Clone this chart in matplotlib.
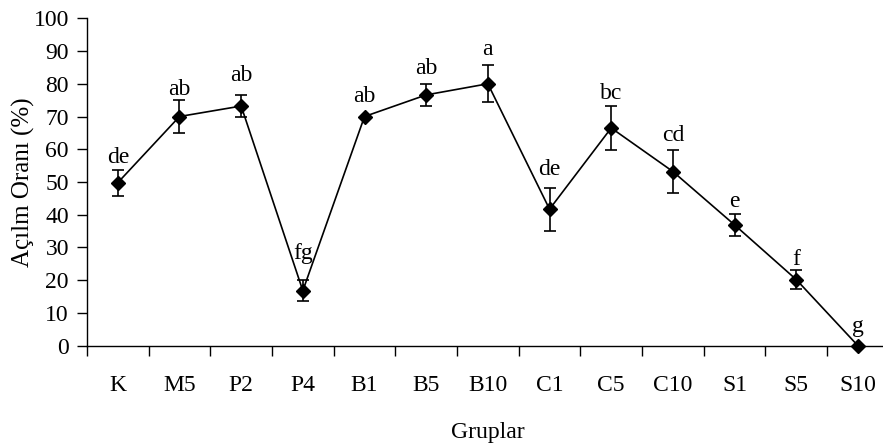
import numpy as np
import matplotlib.pyplot as plt

# Groups and measured values
groups = ["K", "M5", "P2", "P4", "B1", "B5", "B10", "C1", "C5", "C10", "S1", "S5", "S10"]
values = [49.8, 70.0, 73.2, 16.8, 70.0, 76.6, 80.0, 41.7, 66.5, 53.2, 36.9, 20.2, 0.0]
errors = [4.0, 5.0, 3.3, 3.3, 0.0, 3.3, 5.7, 6.6, 6.7, 6.5, 3.4, 2.9, 0.0]
letters = ["de", "ab", "ab", "fg", "ab", "ab", "a", "de", "bc", "cd", "e", "f", "g"]

# gap (pixels) between top of error bar and the letter baseline
label_gap = [6.5, 5, 14, 21, 15, 10.5, 10, 13, 7.5, 9, 7, 5.5, 14]

plt.rcParams['font.family'] = ['Liberation Serif', 'DejaVu Serif']

fig = plt.figure(figsize=(8.83, 4.44), dpi=100)
ax = fig.add_axes([0.0985, 0.2214, 0.908, 0.7374])

x = np.arange(len(groups))
ax.errorbar(x, values, yerr=errors, color='black', lw=1.2, marker='D',
            markersize=7.5, capsize=4.5, elinewidth=1.2, capthick=1.2,
            clip_on=False, zorder=3)

for xi, v, e, lab, g in zip(x, values, errors, letters, label_gap):
    ax.annotate(lab, (xi, v + e), xytext=(0, g * 0.72), textcoords='offset points',
                ha='center', va='baseline', fontsize=17)

ax.set_xlim(-0.5, 12.5)
ax.set_ylim(0, 100)
ax.set_yticks(np.arange(0, 101, 10))
ax.set_xticks(x)
ax.set_xticklabels(groups)
ax.set_xticks(np.arange(-0.5, 12.6, 1), minor=True)
ax.tick_params(axis='x', which='major', length=0, pad=21, labelsize=17)
ax.tick_params(axis='x', which='minor', length=7, direction='out', width=1)
ax.tick_params(axis='y', length=7, direction='out', width=1, labelsize=17, pad=6)

for s in ['top', 'right']:
    ax.spines[s].set_visible(False)
for s in ['left', 'bottom']:
    ax.spines[s].set_linewidth(1)

ax.set_xlabel("Gruplar", fontsize=17, labelpad=19)
ax.set_ylabel("Açılm Oranı (%)", fontsize=18, labelpad=-1)

fig.savefig("out.png", dpi=100)
